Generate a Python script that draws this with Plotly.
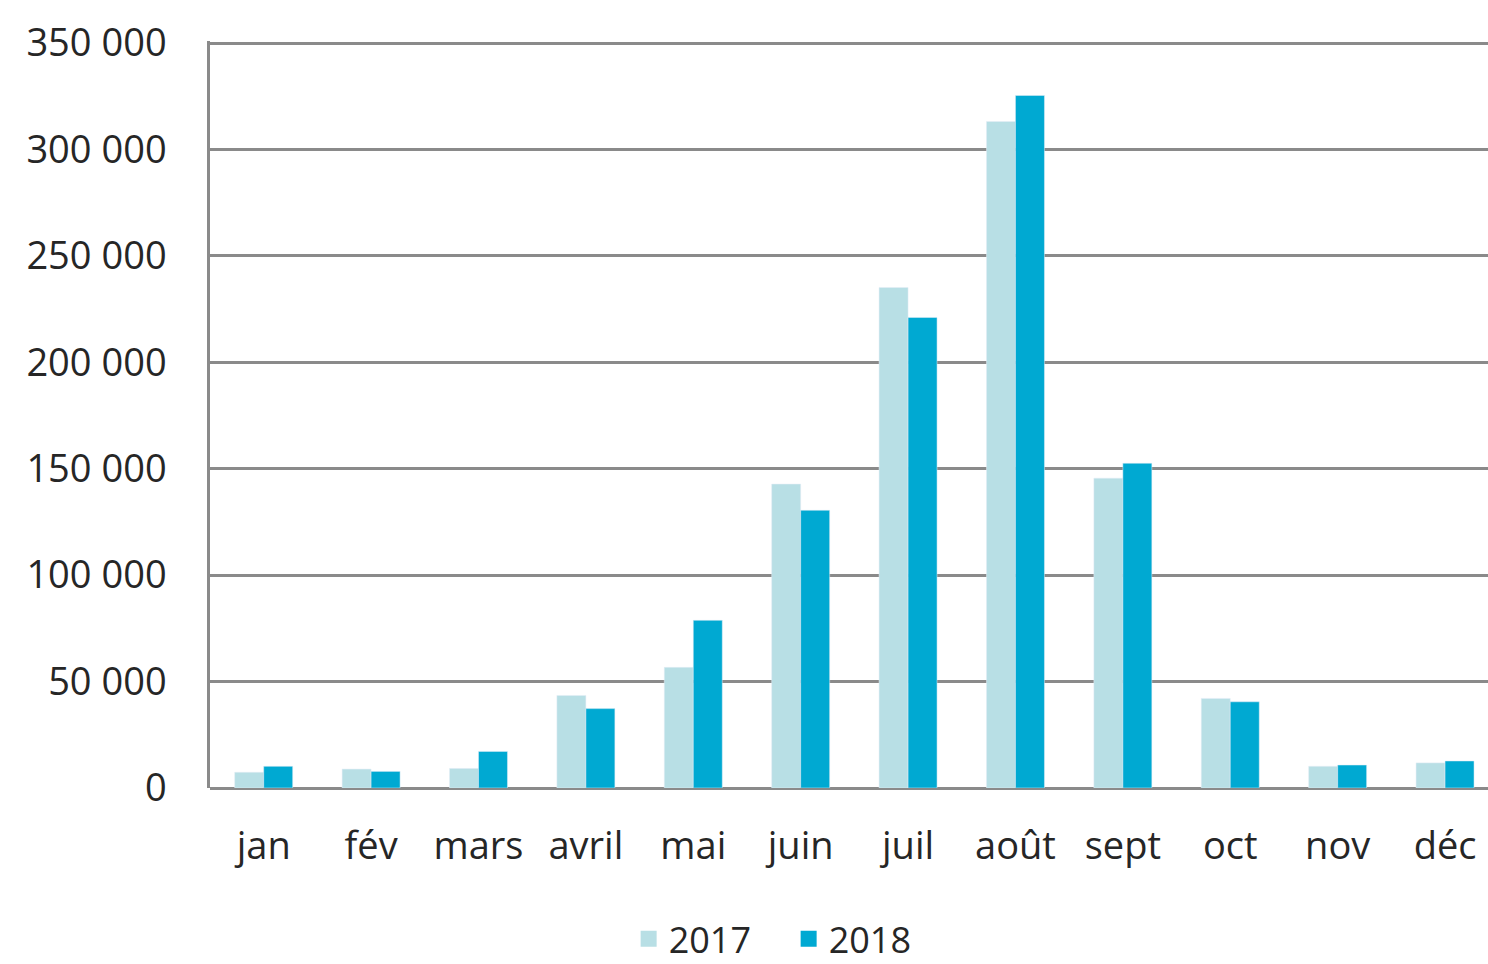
import plotly.graph_objects as go

months = ["jan", "fév", "mars", "avril", "mai", "juin", "juil", "août", "sept", "oct", "nov", "déc"]
v2017 = [7400, 8900, 9200, 43500, 56700, 142800, 235200, 313200, 145600, 42100, 10200, 11800]
v2018 = [10200, 7800, 17200, 37300, 78800, 130500, 221100, 325400, 152600, 40500, 10800, 12700]
y_ticks = [0, 50000, 100000, 150000, 200000, 250000, 300000, 350000]
series = [("2017", v2017, "#b8dfe5"), ("2018", v2018, "#00a9d2")]

grey = "#8a8a8a"
font = dict(family="Open Sans", size=38, color="#262626")

fig = go.Figure()
for name, vals, col in series:
    fig.add_trace(go.Bar(x=months, y=vals, name=name, marker_color=col, showlegend=False))
# bigger square keys for the legend
for name, vals, col in series:
    fig.add_trace(go.Scatter(x=[None], y=[None], mode="markers", name=name,
                             marker=dict(symbol="square", size=24, color=col)))

fig.update_layout(
    width=1488, height=964,
    margin=dict(l=210, r=0, t=41, b=176),
    paper_bgcolor="white", plot_bgcolor="white",
    font=font,
    separators=", ",
    barmode="group", bargap=0.46, bargroupgap=0,
    showlegend=True,
    # container coords so the legend doesn't push the bottom margin
    legend=dict(orientation="h", xref="container", yref="container",
                x=0.53, xanchor="center", y=0.026, yanchor="middle",
                font=dict(family="Open Sans", size=36, color="#262626"),
                itemwidth=30, itemsizing="trace", traceorder="normal",
                entrywidth=115, entrywidthmode="pixels"),
)
fig.update_xaxes(range=[-0.5, 11.4], showgrid=False, showline=False, ticks="",
                 ticklabelstandoff=32, tickfont=font)
fig.update_yaxes(range=[0, 351000], tickvals=y_ticks, tickformat=",d",
                 showgrid=True, gridcolor=grey, gridwidth=2.5,
                 zeroline=True, zerolinecolor=grey, zerolinewidth=2.5,
                 showline=True, linecolor=grey, linewidth=2.5,
                 ticks="", ticklabelstandoff=33, tickfont=font)

# drop the default 8px body margin so the figure fills the window exactly
fig.write_html("out.html", config={"displayModeBar": False},
               post_script="document.body.style.margin='0';")
